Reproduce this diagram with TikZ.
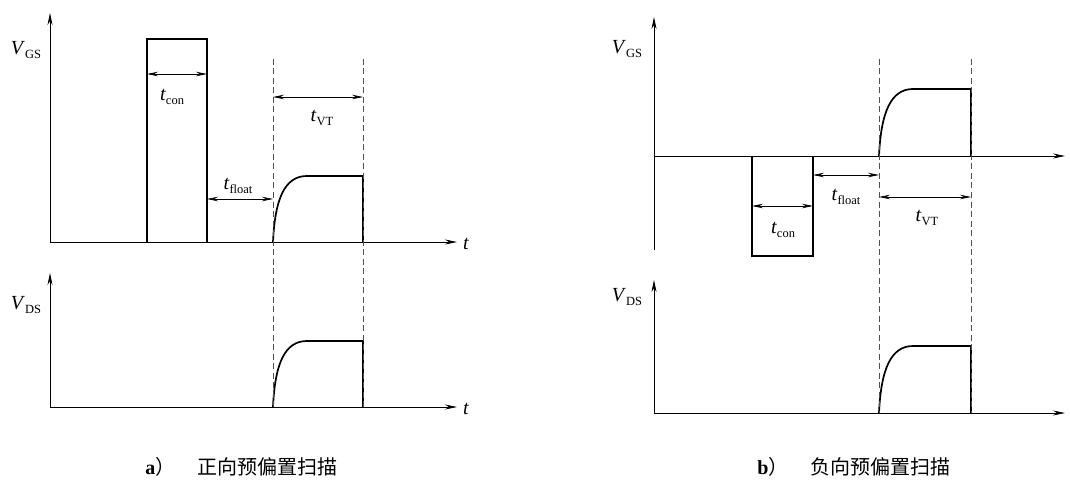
\documentclass[tikz,border=0pt]{standalone}
\usepackage{fontspec}
\setmainfont{Liberation Serif}
\newfontfamily\cjk{Noto Sans CJK SC}
\usetikzlibrary{arrows.meta}
\definecolor{guidegray}{RGB}{80,80,80}
\newcommand{\tsub}[2]{\textit{#1}\raisebox{-.45ex}{\fontsize{12.5}{13}\selectfont #2}}
\tikzset{every picture/.style={line width=.8pt}}

\begin{document}
\begin{tikzpicture}[x=1pt,y=1pt,
 every node/.style={font=\fontsize{20}{22}\selectfont,inner sep=0pt},
 axis/.style={-{Stealth[length=12pt,width=5pt]},line width=.8pt},
 wave/.style={line width=1.7pt,line join=miter},
 dim/.style={{Stealth[length=11pt,width=4.5pt]}-{Stealth[length=11pt,width=4.5pt]},line width=.8pt},
 guide/.style={dash pattern=on 6pt off 3.5pt,line width=.7pt,guidegray},
 caption/.style={font=\fontsize{20}{22}\selectfont,anchor=west}]
 \useasboundingbox (0,0) rectangle (1070,480);

 % a) forward pre-bias sweep, gate voltage
 \begin{scope}[shift={(50,238)}]
  \coordinate (oGSa) at (0,0);
  \draw[axis] (oGSa) -- (407,0);
  \draw[axis] (oGSa) -- (0,229);
  \node (tGSa) at (416,-2) {\textit{t}};
  \node (vGSa) at (-24,192) {\tsub{V}{GS}};
  \draw[wave] (97,0) |- (157,203) -- (157,0);
  \draw[wave] (223,0) .. controls (225,44) and (235,66) .. (257,66)
   -- (313,66) -- (313,0);
  \coordinate (conLa) at (97,168);
  \coordinate (conRa) at (157,168);
  \draw[dim] (conLa) -- (conRa);
  \node (lconA) at (122,145) {\tsub{t}{con}};
  \coordinate (flLa) at (157,43);
  \coordinate (flRa) at (223,43);
  \draw[dim] (flLa) -- (flRa);
  \node (lflA) at (188,56) {\tsub{t}{float}};
  \coordinate (vtLa) at (223,145);
  \coordinate (vtRa) at (313,145);
  \draw[dim] (vtLa) -- (vtRa);
  \node (lvtA) at (272,124) {\tsub{t}{VT}};
 \end{scope}

 % a) drain voltage
 \begin{scope}[shift={(50,73)}]
  \coordinate (oDSa) at (0,0);
  \draw[axis] (oDSa) -- (407,0);
  \draw[axis] (oDSa) -- (0,134);
  \node (tDSa) at (416,-2) {\textit{t}};
  \node (vDSa) at (-24,102) {\tsub{V}{DS}};
  \draw[wave] (223,0) .. controls (225,44) and (235,66) .. (257,66)
   -- (313,66) -- (313,0);
 \end{scope}

 \draw[guide] (273,421) -- (273,73);
 \draw[guide] (363,421) -- (363,73);
 \node[caption] (capA) at (145,13)
  {\textbf{a}{\cjk ）}\hspace{22pt}{\cjk 正向预偏置扫描}};

 % b) reverse pre-bias sweep, gate voltage
 \begin{scope}[shift={(654,324)}]
  \coordinate (oGSb) at (0,0);
  \draw[axis] (oGSb) -- (411,0);
  \draw[axis] (0,-94) -- (0,139);
  \node (vGSb) at (-27,107) {\tsub{V}{GS}};
  \draw[wave] (98,0) |- (159,-100) -- (159,0);
  \draw[wave] (225,0) .. controls (227,44) and (237,67) .. (259,67)
   -- (317,67) -- (317,0);
  \coordinate (conLb) at (98,-50);
  \coordinate (conRb) at (159,-50);
  \draw[dim] (conLb) -- (conRb);
  \node (lconB) at (129,-74) {\tsub{t}{con}};
  \coordinate (flLb) at (159,-19);
  \coordinate (flRb) at (225,-19);
  \draw[dim] (flLb) -- (flRb);
  \node (lflB) at (192,-41) {\tsub{t}{float}};
  \coordinate (vtLb) at (225,-41);
  \coordinate (vtRb) at (317,-41);
  \draw[dim] (vtLb) -- (vtRb);
  \node (lvtB) at (273,-62) {\tsub{t}{VT}};
 \end{scope}

 % b) drain voltage
 \begin{scope}[shift={(654,67)}]
  \coordinate (oDSb) at (0,0);
  \draw[axis] (oDSb) -- (411,0);
  \draw[axis] (oDSb) -- (0,133);
  \node (vDSb) at (-27,116) {\tsub{V}{DS}};
  \draw[wave] (225,0) .. controls (227,44) and (237,67) .. (259,67)
   -- (317,67) -- (317,0);
 \end{scope}

 \draw[guide] (879,421) -- (879,67);
 \draw[guide] (971,421) -- (971,67);
 \node[caption] (capB) at (757,13)
  {\textbf{b}{\cjk ）}\hspace{22pt}{\cjk 负向预偏置扫描}};
\end{tikzpicture}
\end{document}
